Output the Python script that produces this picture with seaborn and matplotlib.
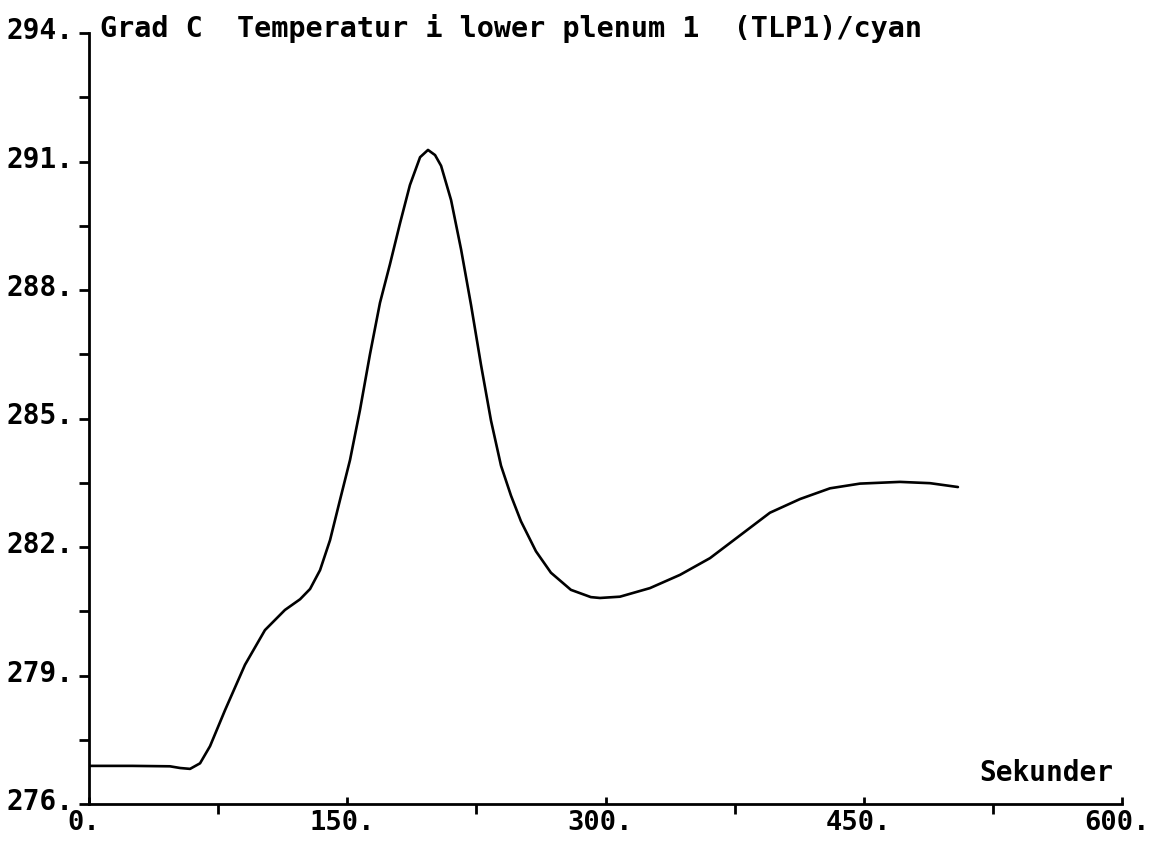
import numpy as np
import pandas as pd
import matplotlib
matplotlib.use("Agg")
import matplotlib.pyplot as plt
import matplotlib.transforms as mtransforms
import seaborn as sns
from matplotlib.ticker import MultipleLocator, FuncFormatter

# Data (time in seconds, temperature in deg C)
time_s = [0, 25, 47, 53, 58.7, 64.5, 70.3, 79, 90.6, 102.2, 113.8, 122.6,
          128.4, 134.2, 140, 145.8, 151.6, 157.4, 163.2, 169, 174.8, 180.6,
          186.4, 192.3, 196.9, 201, 204.5, 210.3, 216.1, 221.9, 227.7, 233.5,
          239.3, 245.1, 250.9, 259.6, 268.3, 279.9, 291.5, 296.8, 308.4,
          325.8, 343.3, 360.7, 378.1, 395.5, 413, 430.4, 447.8, 471, 488.5,
          504.7]
temp_c = [276.89, 276.89, 276.88, 276.84, 276.82, 276.95, 277.35, 278.19,
          279.25, 280.06, 280.53, 280.78, 281.02, 281.46, 282.16, 283.1,
          284.03, 285.2, 286.5, 287.7, 288.6, 289.55, 290.45, 291.1, 291.27,
          291.15, 290.9, 290.1, 288.95, 287.65, 286.25, 284.95, 283.9, 283.2,
          282.6, 281.9, 281.4, 281.0, 280.83, 280.81, 280.84, 281.04, 281.35,
          281.74, 282.27, 282.8, 283.12, 283.37, 283.48, 283.52, 283.49,
          283.4]

x_major = [0, 150, 300, 450, 600]
y_major = [276, 279, 282, 285, 288, 291, 294]

title_text = "Grad C  Temperatur i lower plenum 1  (TLP1)/cyan"
xlabel_text = "Sekunder"

sns.set_theme(style="white")
plt.rcParams["font.family"] = ["DejaVu Sans Mono", "DejaVu Sans"]
plt.rcParams["font.weight"] = "bold"

fig = plt.figure(figsize=(11.52, 8.42), dpi=100)
ax = fig.add_axes([89 / 1152, 1 - 804 / 842, 1033 / 1152, 771 / 842])

df = pd.DataFrame({"t": time_s, "T": temp_c})
sns.lineplot(data=df, x="t", y="T", ax=ax, color="black", linewidth=1.9,
             sort=False, estimator=None)

ax.set_xlim(0, 600)
ax.set_ylim(276, 294)

ax.set_xticks(x_major)
ax.xaxis.set_minor_locator(MultipleLocator(75))
ax.set_yticks(y_major)
ax.yaxis.set_minor_locator(MultipleLocator(1.5))
fmt = FuncFormatter(lambda v, p: f"{v:.0f}.")
ax.xaxis.set_major_formatter(fmt)
ax.yaxis.set_major_formatter(fmt)

for s in ["top", "right"]:
    ax.spines[s].set_visible(False)
for s in ["left", "bottom"]:
    ax.spines[s].set_linewidth(2.0)
    ax.spines[s].set_color("black")

ax.tick_params(axis="y", which="both", direction="out", length=7, width=2,
               color="black", labelsize=20, pad=4, left=True)
ax.tick_params(axis="x", which="major", direction="in", length=5, width=2,
               color="black", labelsize=19.5, pad=4, bottom=True)
ax.tick_params(axis="x", which="minor", direction="out", length=7, width=2,
               color="black", bottom=True)

fig.canvas.draw()
dx = mtransforms.ScaledTranslation(-5 / 100, 0, fig.dpi_scale_trans)
dy = mtransforms.ScaledTranslation(0, 5 / 100, fig.dpi_scale_trans)
for lab in ax.get_xticklabels():
    lab.set_fontweight("bold")
    lab.set_color("black")
    lab.set_transform(lab.get_transform() + dx)
for lab in ax.get_yticklabels():
    lab.set_fontweight("bold")
    lab.set_color("black")
    lab.set_transform(lab.get_transform() + dy)

ax.set_ylabel("")
ax.set_xlabel(xlabel_text, fontsize=20, fontweight="bold", color="black",
              ha="right", va="center")
ax.xaxis.set_label_coords(0.992, 0.04)

ax.text(0.011, 1.006, title_text, transform=ax.transAxes, ha="left",
        va="center", fontsize=20.5, fontweight="bold", color="black")

ax.grid(False)
fig.savefig("out.png", dpi=100, facecolor="white")
